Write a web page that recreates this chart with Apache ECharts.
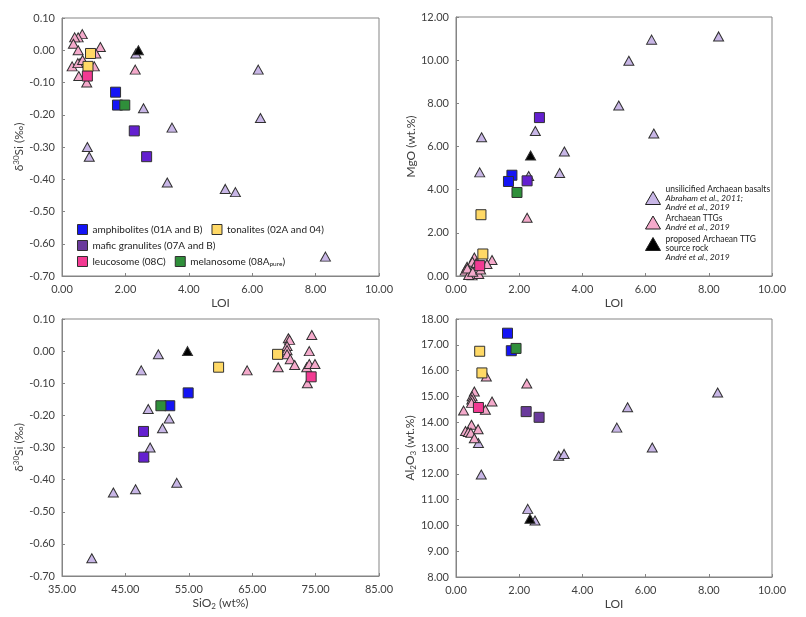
<!DOCTYPE html>
<html><head><meta charset="utf-8">
<script src="https://cdn.jsdelivr.net/npm/echarts@6/dist/echarts.min.js"></script>
<style>html,body{margin:0;padding:0;background:#fff}#c{width:806px;height:617px}</style>
</head><body><div id="c"></div>
<script>
// ---------- DATA ----------
// Panel 1: LOI vs d30Si
const p1_basalt = [[6.19,-0.06],[6.26,-0.21],[2.57,-0.18],[3.47,-0.24],[0.80,-0.30],[0.86,-0.33],[3.32,-0.41],[5.15,-0.43],[5.47,-0.44],[8.31,-0.64],[2.33,-0.01]];
const p1_ttg = [[0.64,0.05],[0.51,0.04],[0.40,0.04],[0.36,0.02],[0.51,0.00],[1.21,0.01],[0.32,-0.05],[0.57,-0.04],[0.50,-0.04],[0.65,-0.03],[1.02,-0.05],[1.07,-0.01],[0.53,-0.08],[0.78,-0.10],[2.31,-0.06]];
const p1_source = [[2.41,0.00]];
const p1_amph = [[1.69,-0.13],[1.75,-0.17]];
const p1_tonal = [[0.90,-0.01],[0.82,-0.05]];
const p1_mafic = [[2.28,-0.25],[2.67,-0.33]];
const p1_leuco = [[0.80,-0.08]];
const p1_melano = [[1.98,-0.17]];
// Panel 2: LOI vs MgO
const p2_basalt = [[8.31,11.1],[6.19,10.95],[5.47,9.97],[5.15,7.9],[6.26,6.6],[0.81,6.43],[2.51,6.72],[3.43,5.77],[0.75,4.8],[3.28,4.77],[2.30,4.63]];
const p2_ttg = [[0.58,0.86],[0.52,0.66],[1.14,0.74],[0.98,0.56],[0.35,0.43],[0.29,0.25],[0.45,0.12],[0.51,0.03],[0.72,0.09],[0.40,0.05],[0.64,0.60],[0.36,0.35],[0.53,0.20],[0.78,0.30],[2.25,2.70]];
const p2_source = [[2.36,5.58]];
const p2_amph = [[1.77,4.67],[1.66,4.38]];
const p2_tonal = [[0.79,2.84],[0.85,1.02]];
const p2_mafic = [[2.64,7.34],[2.25,4.41]];
const p2_leuco = [[0.75,0.48]];
const p2_melano = [[1.93,3.87]];
// Panel 3: SiO2 vs d30Si
const p3_basalt = [[47.5,-0.06],[50.2,-0.01],[48.6,-0.18],[51.9,-0.21],[50.85,-0.24],[48.9,-0.30],[53.1,-0.41],[46.6,-0.43],[43.1,-0.44],[39.7,-0.645],[47.9,-0.33]];
const p3_ttg = [[74.4,0.05],[70.7,0.04],[70.9,0.035],[70.5,0.016],[70.5,0.003],[74.0,0.00],[70.5,-0.01],[71.0,-0.025],[71.7,-0.043],[69.1,-0.05],[73.6,-0.05],[74.0,-0.04],[74.9,-0.04],[64.2,-0.06],[73.7,-0.10]];
const p3_source = [[54.8,0.00]];
const p3_amph = [[54.9,-0.13],[52.0,-0.17]];
const p3_tonal = [[69.0,-0.01],[59.7,-0.05]];
const p3_mafic = [[47.85,-0.25],[47.9,-0.33]];
const p3_leuco = [[74.3,-0.08]];
const p3_melano = [[50.6,-0.17]];
// Panel 4: LOI vs Al2O3
const p4_basalt = [[8.28,15.15],[5.43,14.58],[5.09,13.79],[6.21,13.02],[3.25,12.70],[3.42,12.77],[0.80,11.97],[2.27,10.64],[2.50,10.19],[0.71,13.19]];
const p4_ttg = [[2.24,15.5],[0.96,15.77],[0.58,15.19],[0.51,15.0],[0.50,14.88],[0.49,14.75],[1.14,14.8],[0.24,14.45],[0.93,14.48],[0.49,13.9],[0.70,13.73],[0.30,13.66],[0.39,13.62],[0.47,13.59],[0.58,13.38]];
const p4_source = [[2.34,10.26]];
const p4_amph = [[1.63,17.45],[1.75,16.77]];
const p4_tonal = [[0.75,16.75],[0.82,15.91]];
const p4_mafic = [[2.22,14.41],[2.63,14.19]];
const p4_leuco = [[0.71,14.57]];
const p4_melano = [[1.90,16.86]];

const panels = [
  {basalt:p1_basalt, ttg:p1_ttg, source:p1_source, amph:p1_amph, tonal:p1_tonal, mafic:p1_mafic, leuco:p1_leuco, melano:p1_melano, maficColor:'#6420d0'},
  {basalt:p2_basalt, ttg:p2_ttg, source:p2_source, amph:p2_amph, tonal:p2_tonal, mafic:p2_mafic, leuco:p2_leuco, melano:p2_melano, maficColor:'#6420d0'},
  {basalt:p3_basalt, ttg:p3_ttg, source:p3_source, amph:p3_amph, tonal:p3_tonal, mafic:p3_mafic, leuco:p3_leuco, melano:p3_melano, maficColor:'#6420d0'},
  {basalt:p4_basalt, ttg:p4_ttg, source:p4_source, amph:p4_amph, tonal:p4_tonal, mafic:p4_mafic, leuco:p4_leuco, melano:p4_melano, maficColor:'#6a3a9c'}
];

// ---------- STYLE ----------
const FONT = 'Lato';
const TXT = '#404040';
const BORDER = '#858585';
const C = {basalt:'#c8b6e6', ttg:'#f4aacb', source:'#000000', amph:'#1414f5', tonal:'#ffd966', mafic:'#6a3a9c', leuco:'#f23a92', melano:'#2f8f3a'};

const grids = [
  {left:62, top:18, width:317, height:258},
  {left:456, top:17, width:316, height:259},
  {left:62, top:319, width:317, height:257},
  {left:456, top:319, width:316, height:258}
].map(g => Object.assign({show:true, borderColor:BORDER, borderWidth:1, backgroundColor:'#fff'}, g));

function fmt(v){ if (Math.abs(v) < 1e-9) v = 0; return v.toFixed(2); }

function axisBase(){
  return {
    axisLine:{show:true, onZero:false, lineStyle:{color:BORDER, width:1}},
    axisTick:{show:true, inside:true, length:3, lineStyle:{color:BORDER}},
    splitLine:{show:false},
    axisLabel:{color:TXT, fontFamily:FONT, fontSize:11, formatter:fmt},
    nameTextStyle:{color:TXT, fontFamily:FONT, fontSize:12,
      rich:{n:{fontFamily:FONT, fontSize:12, color:TXT}, sup:{fontFamily:FONT, fontSize:8, color:TXT, verticalAlign:'top', padding:[0,0,5,0]}, sub:{fontFamily:FONT, fontSize:8, color:TXT, verticalAlign:'bottom', padding:[5,0,0,0]}}}
  };
}
const xDefs = [
  {min:0, max:10, interval:2, name:'LOI'},
  {min:0, max:10, interval:2, name:'LOI'},
  {min:35, max:85, interval:10, name:'{n|SiO}{sub|2}{n| (wt%)}'},
  {min:0, max:10, interval:2, name:'LOI'}
];
const yDefs = [
  {min:-0.7, max:0.1, interval:0.1, name:'{n|δ}{sup|30}{n|Si (‰)}', gap:26},
  {min:0, max:12, interval:2, name:'MgO (wt.%)', gap:33},
  {min:-0.7, max:0.1, interval:0.1, name:'{n|δ}{sup|30}{n|Si (‰)}', gap:27},
  {min:8, max:18, interval:1, name:'{n|Al}{sub|2}{n|O}{sub|3}{n| (wt.%)}', gap:37}
];
const xAxes = xDefs.map((d,i) => Object.assign(axisBase(), {type:'value', gridIndex:i, min:d.min, max:d.max, interval:d.interval, name:d.name, nameLocation:'middle', nameGap:21, axisLabel:Object.assign(axisBase().axisLabel,{margin:8})}));
const yAxes = yDefs.map((d,i) => Object.assign(axisBase(), {type:'value', gridIndex:i, min:d.min, max:d.max, interval:d.interval, name:d.name, nameLocation:'middle', nameGap:d.gap, nameRotate:90, axisLabel:Object.assign(axisBase().axisLabel,{margin:7})}));

const series = [];
panels.forEach((p,i) => {
  const add = (key, symbol, size, color) => series.push({
    type:'scatter', name:key, xAxisIndex:i, yAxisIndex:i, data:p[key],
    symbol:symbol, symbolSize:size,
    itemStyle:{color:color, borderColor:'#303030', borderWidth:1, opacity:1},
    emphasis:{disabled:true}, animation:false
  });
  add('basalt','triangle',[10,9],C.basalt);
  add('ttg','triangle',[10,9],C.ttg);
  add('source','triangle',[10,9],C.source);
  add('tonal','rect',10,C.tonal);
  add('leuco','rect',10,C.leuco);
  add('amph','rect',10,C.amph);
  add('mafic','rect',10,p.maficColor);
  add('melano','rect',10,C.melano);
});

const sqLabels = {
  amph:'amphibolites (01A and B)', tonal:'tonalites (02A and 04)', mafic:'mafic granulites (07A and B)',
  leuco:'leucosome (08C)', melano:'melanosome (08A{sub|pure})'
};
function sqLegend(names, top){
  return {
    left:77, top:top, padding:0, orient:'horizontal', itemWidth:10, itemHeight:10, itemGap:9, selectedMode:false, icon:'rect',
    data:names.map(n => ({name:n, itemStyle:{color:C[n], borderColor:'#303030', borderWidth:1}})),
    formatter:n => sqLabels[n],
    textStyle:{color:'#222', fontFamily:FONT, fontSize:10, rich:{sub:{fontFamily:FONT, fontSize:6.5, color:'#222', verticalAlign:'bottom', padding:[4,0,0,0]}}}
  };
}
const triLabels = {
  basalt:'{n|unsilicified Archaean basalts}\n{i|Abraham et al., 2011;}\n{i|André et al., 2019}',
  ttg:'{n|Archaean TTGs}\n{i|André et al., 2019}',
  source:'{e| }\n{n|proposed Archaean TTG}\n{n|source rock}\n{i|André et al., 2019}'
};
function triLegend(name, top){
  return {
    left:645, top:top, padding:0, itemWidth:15, itemHeight:13, itemGap:5, selectedMode:false, icon:'triangle',
    data:[{name:name, itemStyle:{color:C[name], borderColor:'#202020', borderWidth:1}}],
    formatter:n => triLabels[n],
    textStyle:{color:'#222', fontFamily:FONT, fontSize:8.5,
      rich:{e:{fontSize:6, lineHeight:8}, n:{fontFamily:FONT, fontSize:8.5, lineHeight:9, color:'#222'}, i:{fontFamily:FONT, fontSize:8.5, lineHeight:9, fontStyle:'italic', color:'#222'}}}
  };
}

const option = {
  backgroundColor:'#fff',
  animation:false,
  grid:grids,
  xAxis:xAxes,
  yAxis:yAxes,
  legend:[
    sqLegend(['amph','tonal'], 224),
    sqLegend(['mafic'], 240),
    sqLegend(['leuco','melano'], 256),
    triLegend('basalt', 184.5),
    triLegend('ttg', 213.5),
    triLegend('source', 227.5)
  ],
  series:series
};
const chart = echarts.init(document.getElementById('c'), null, {renderer:'canvas'});
chart.setOption(option);
</script></body></html>
